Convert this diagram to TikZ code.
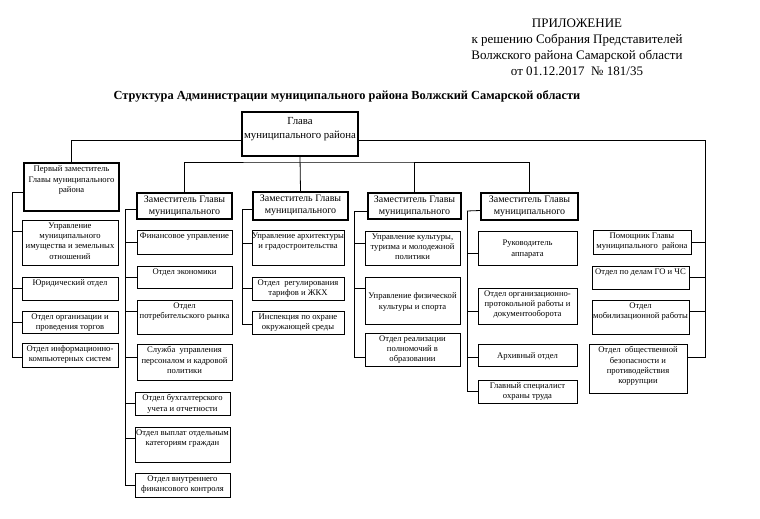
\documentclass[tikz,border=0pt]{standalone}
\usepackage{fontspec}
\setmainfont{Liberation Serif}
\tikzset{
  obox/.style={draw, line width=0.8pt, inner sep=0pt, font=\fontsize{8.6}{10.4}\selectfont},
  fdbox/.style={draw, line width=1.6pt, inner sep=0pt, font=\fontsize{8.6}{10.8}\selectfont},
  dbox/.style={draw, line width=1.8pt, inner sep=0pt, font=\fontsize{10}{12.3}\selectfont},
  gbox/.style={draw, line width=1.8pt, inner sep=0pt, font=\fontsize{10.8}{14}\selectfont},
  conn/.style={line width=0.8pt},
}
% #1 style, #2 vertical alignment (t/c), #3 name, #4 x1, #5 y1, #6 x2, #7 y2, #8 text
\newcommand\ob[8]{\node[#1] (#3) at ({(#4+#6)/2},{(#5+#7)/2})
  {\parbox[c][\dimexpr#7pt-#5pt\relax][#2]{\dimexpr#6pt-#4pt\relax}{\centering\vspace*{2.5pt}#8\par}};}
\newcommand\lstub[3]{\draw[conn] ([yshift=#2pt]#1.west) -| (#3);}
\newcommand\rstub[3]{\draw[conn] ([yshift=#2pt]#1.east) -| (#3);}
\begin{document}
\begin{tikzpicture}[x=1pt,y=-1pt]
\useasboundingbox[fill=white] (0,0) rectangle (760,519);

% header
\node[align=center, inner sep=0pt, anchor=north, font=\fontsize{13}{16}\selectfont] (hdr) at (577,19)
  {ПРИЛОЖЕНИЕ\\к решению Собрания Представителей\\Волжского района Самарской области\\от 01.12.2017~~№ 181/35};
\node[inner sep=0pt, font=\bfseries\fontsize{12.35}{15}\selectfont] (title) at (347,96)
  {Структура Администрации муниципального района Волжский Самарской области};

% head
\ob{gbox}{t}{g}{242}{112}{358}{156}{\vspace*{2.5pt}Глава\\муниципального района}
\ob{fdbox}{t}{fd}{24}{163}{119}{211}{Первый заместитель\\Главы муниципального\\района}
\ob{dbox}{t}{d1}{137}{193}{232}{219}{Заместитель Главы\\муниципального}
\ob{dbox}{t}{d2}{253}{192}{348}{220}{Заместитель Главы\\муниципального}
\ob{dbox}{t}{d3}{368}{193}{461}{219}{Заместитель Главы\\муниципального}
\ob{dbox}{t}{d4}{481}{193}{578}{220}{Заместитель Главы\\муниципального}

% left column
\ob{obox}{t}{L1}{22}{220}{118}{265}{Управление\\муниципального\\имущества и земельных\\отношений}
\ob{obox}{t}{L2}{22}{277}{118}{300}{Юридический отдел}
\ob{obox}{t}{L3}{22}{311}{118}{333}{Отдел организации и\\проведения торгов}
\ob{obox}{t}{L4}{22}{343}{118}{367}{Отдел информационно-\\компьютерных систем}

% column 1
\ob{obox}{t}{A1}{137}{230}{232}{254}{Финансовое управление}
\ob{obox}{t}{A2}{137}{266}{232}{288}{Отдел экономики}
\ob{obox}{t}{A3}{137}{300}{232}{334}{Отдел\\потребительского рынка}
\ob{obox}{t}{A4}{137}{344}{232}{380}{Служба~ управления\\персоналом и кадровой\\политики}
\ob{obox}{t}{A5}{135}{392}{230}{415}{Отдел бухгалтерского\\учета и отчетности}
\ob{obox}{t}{A6}{135}{427}{230}{462}{Отдел выплат отдельным\\категориям граждан}
\ob{obox}{t}{A7}{135}{473}{230}{497}{Отдел внутреннего\\финансового контроля}

% column 2
\ob{obox}{t}{B1}{252}{230}{344}{265}{Управление архитектуры\\и градостроительства}
\ob{obox}{t}{B2}{252}{277}{344}{300}{Отдел~ регулирования\\тарифов и ЖКХ}
\ob{obox}{t}{B3}{252}{311}{344}{334}{Инспекция по охране\\окружающей среды}

% column 3
\ob{obox}{t}{C1}{365}{231}{460}{265}{Управление культуры,\\туризма и молодежной\\политики}
\ob{obox}{c}{C2}{365}{277}{460}{324}{Управление физической\\культуры и спорта}
\ob{obox}{t}{C3}{365}{333}{460}{366}{Отдел реализации\\полномочий в\\образовании}

% column 4
\ob{obox}{c}{E1}{478}{231}{577}{265}{Руководитель\\аппарата}
\ob{obox}{t}{E2}{478}{288}{577}{324}{Отдел организационно-\\протокольной работы и\\документооборота}
\ob{obox}{c}{E3}{478}{344}{577}{366}{Архивный отдел}
\ob{obox}{t}{E4}{478}{380}{577}{403}{Главный специалист\\охраны труда}

% right column
\ob{obox}{t}{R1}{593}{230}{691}{254}{Помощник Главы\\муниципального~ района}
\ob{obox}{t}{R2}{592}{266}{689}{289}{Отдел по делам ГО и ЧС}
\ob{obox}{t}{R3}{592}{300}{689}{334}{Отдел\\мобилизационной работы}
\ob{obox}{t}{R4}{589}{344}{687}{393}{Отдел~ общественной\\безопасности и\\противодействия\\коррупции}

% column tops
\coordinate (c0) at (12,192);
\coordinate (c1) at (125,209);
\coordinate (c2) at (242,209);
\coordinate (c3) at (354,211);
\coordinate (c4) at (467,211);
\coordinate (rc) at (705,140);
\coordinate (bus) at (301,162);

% top-level connectors
\draw[conn] ([yshift=-6pt]g.west) -| (fd.north);
\draw[conn] ([yshift=-6pt]g.east) -- (rc);
\draw[conn] (g.south) -- (d2.north);
\draw[conn] (d1.north) |- (bus) -| (d4.north);
\draw[conn] (d3.north) -- (d3.north |- bus);

% deputy to column
\draw[conn] ([yshift=-5pt]fd.west) -- (c0);
\draw[conn] ([yshift=-3pt]d1.west) -- (c1);
\draw[conn] ([yshift=-3pt]d2.west) -- (c2);
\draw[conn] ([yshift=-5pt]d3.west) -- (c3);
\draw[conn] ([yshift=-4pt]d4.west) -- (c4);

% stubs
\lstub{L1}{11.5}{c0}
\lstub{L2}{0}{c0}
\lstub{L3}{0}{c0}
\lstub{L4}{-2}{c0}
\lstub{A1}{0}{c1}
\lstub{A2}{0}{c1}
\lstub{A3}{6}{c1}
\lstub{A4}{5}{c1}
\lstub{A5}{0}{c1}
\lstub{A6}{6.5}{c1}
\lstub{A7}{0}{c1}
\lstub{B1}{4.5}{c2}
\lstub{B2}{0}{c2}
\lstub{B3}{-1.5}{c2}
\lstub{C1}{5}{c3}
\lstub{C2}{12.5}{c3}
\lstub{C3}{-7.5}{c3}
\lstub{E1}{-5}{c4}
\lstub{E2}{-5}{c4}
\lstub{E3}{-2}{c4}
\lstub{E4}{0}{c4}
\rstub{R1}{0}{rc}
\rstub{R2}{0}{rc}
\rstub{R3}{6}{rc}
\rstub{R4}{11.5}{rc}
\end{tikzpicture}
\end{document}
